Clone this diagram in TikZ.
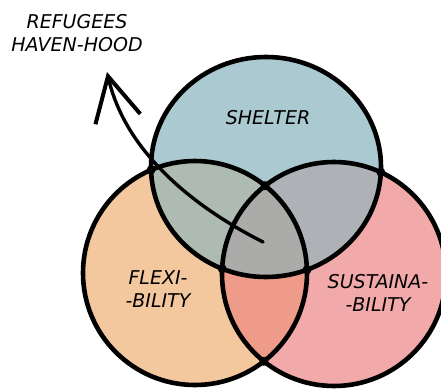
\documentclass[tikz,border=0pt]{standalone}
\usepackage{fontspec}
\setmainfont{DejaVu Sans}
\usetikzlibrary{arrows.meta}
\usetikzlibrary{intersections}

\definecolor{shelterblue}{HTML}{AAC9D0}
\definecolor{flexorange}{HTML}{F4C89E}
\definecolor{sustpink}{HTML}{F2A9A9}
\definecolor{shelflex}{HTML}{AEBBB3}
\definecolor{shelsust}{HTML}{AEB2B6}
\definecolor{flexsust}{HTML}{EE9B8A}
\definecolor{allthree}{HTML}{ABACA9}

\newcommand{\shelterring}{(266,222) ellipse [x radius=115, y radius=110]}
\newcommand{\flexring}{(195,116) circle [radius=112]}
\newcommand{\sustring}{(334,115) circle [radius=112]}

\tikzset{
  lbl/.style={align=center, font=\fontsize{19}{23}\selectfont\itshape},
  rim/.style={line width=4.6pt},
}

\begin{document}
\begin{tikzpicture}[x=1pt,y=1pt]
      \useasboundingbox (0,0) rectangle (441,389);
      \clip (0,0) rectangle (441,389);

      \fill[shelterblue] \shelterring;
      \fill[flexorange] \flexring;
      \fill[sustpink] \sustring;
      \begin{scope}
        \clip \shelterring;
        \fill[shelflex] \flexring;
        \fill[shelsust] \sustring;
      \end{scope}
      \begin{scope}
        \clip \flexring;
        \fill[flexsust] \sustring;
        \clip \shelterring;
        \fill[allthree] \sustring;
      \end{scope}

      \draw[rim, name path=shel] \shelterring;
      \draw[rim, name path=flex] \flexring;
      \draw[rim, name path=sust] \sustring;
      \path[name intersections={of=shel and flex, name=sf}];
      \path[name intersections={of=shel and sust, name=ss}];
      \path[name intersections={of=flex and sust, name=fs}];
      \foreach \p in {sf-1,sf-2,ss-1,ss-2,fs-1,fs-2}
        \fill (\p) circle (4.5);

      \node[lbl] (shelter) at (268,271) {SHELTER};
      \node[lbl] (flexi) at (158,100) {FLEXI-\\-BILITY};
      \node[lbl] (sustain) at (378,96) {SUSTAINA-\\-BILITY};
      \node[lbl] (haven) at (77,356) {REFUGEES\\HAVEN-HOOD};

      \coordinate (core) at (263,147);
      \coordinate (tip) at (107,317);
      \draw[line width=3.4pt, line cap=round, -{Straight Barb[length=44pt,width=46pt,line width=4pt]}]
        (core) .. controls (190,184) and (125,239) .. (tip);
\end{tikzpicture}
\end{document}
